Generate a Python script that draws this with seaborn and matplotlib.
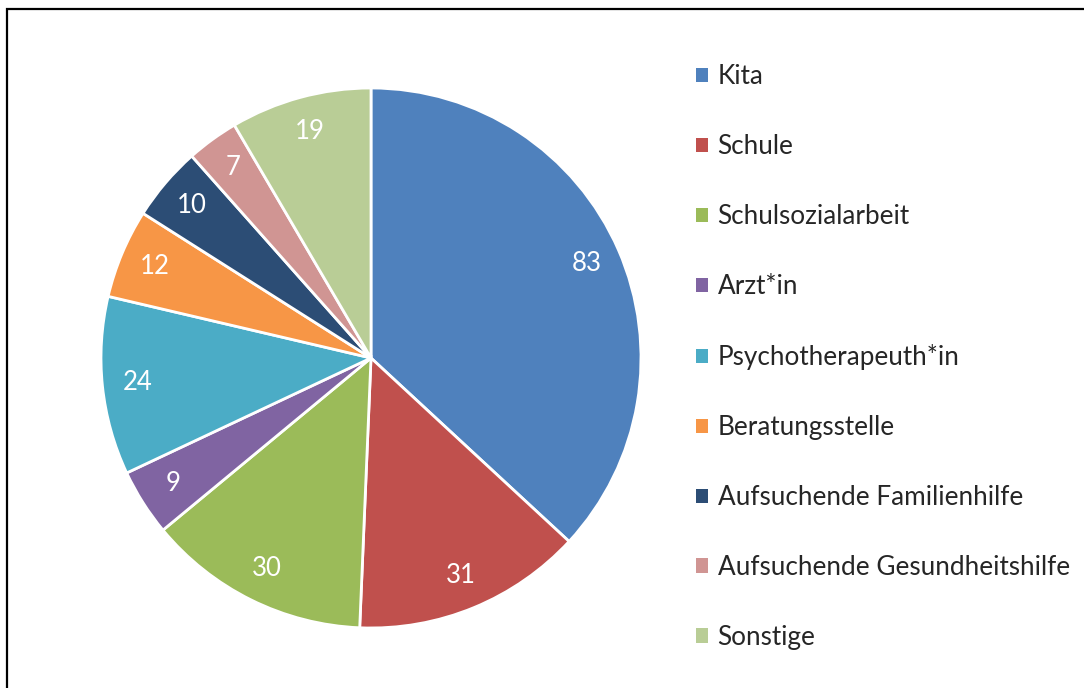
import matplotlib
matplotlib.use("Agg")
from matplotlib import pyplot as plt
from matplotlib.patches import Rectangle, Patch
import seaborn as sns

categories = ['Kita', 'Schule', 'Schulsozialarbeit', 'Arzt*in', 'Psychotherapeuth*in',
              'Beratungsstelle', 'Aufsuchende Familienhilfe',
              'Aufsuchende Gesundheitshilfe', 'Sonstige']
counts = [83, 31, 30, 9, 24, 12, 10, 7, 19]
slice_colors = ['#4F81BD', '#C0504D', '#9BBB59', '#8064A2', '#4BACC6',
                '#F79646', '#2C4D75', '#D09593', '#B9CD96']

sns.set_theme(style='white')
plt.rcParams['font.family'] = ['Lato', 'DejaVu Sans']
palette = sns.color_palette(slice_colors)

fig = plt.figure(figsize=(10.84, 6.88), dpi=100)

# frame around chart area (cropped at right/bottom like the screenshot)
fig.patches.append(Rectangle((7 / 1084, -0.05), 1.2, 1 - 9 / 688 + 0.05,
                             transform=fig.transFigure, fill=False,
                             edgecolor='black', linewidth=1.6))

cx, cy, r = 371, 358, 270
ax = fig.add_axes([(cx - r) / 1084, (688 - cy - r) / 688, 2 * r / 1084, 2 * r / 688])
wedges, texts = ax.pie(counts, colors=palette, startangle=90, counterclock=False,
                       labels=[str(v) for v in counts], labeldistance=0.87,
                       radius=1, wedgeprops=dict(edgecolor='white', linewidth=2),
                       textprops=dict(color='white', fontsize=18.5))
for t in texts:
    t.set_ha('center')
    t.set_va('center')
ax.set_xlim(-1.0, 1.0)
ax.set_ylim(-1.0, 1.0)

handles = [Patch(facecolor=c, edgecolor='none') for c in palette]
leg = fig.legend(handles, categories, loc='upper left',
                 bbox_to_anchor=(686 / 1084, 1 - 54 / 688), frameon=False,
                 fontsize=18.8, handlelength=0.46, handleheight=0.46,
                 handletextpad=0.35, labelspacing=1.72, borderaxespad=0)

fig.savefig('out.png', dpi=100)
